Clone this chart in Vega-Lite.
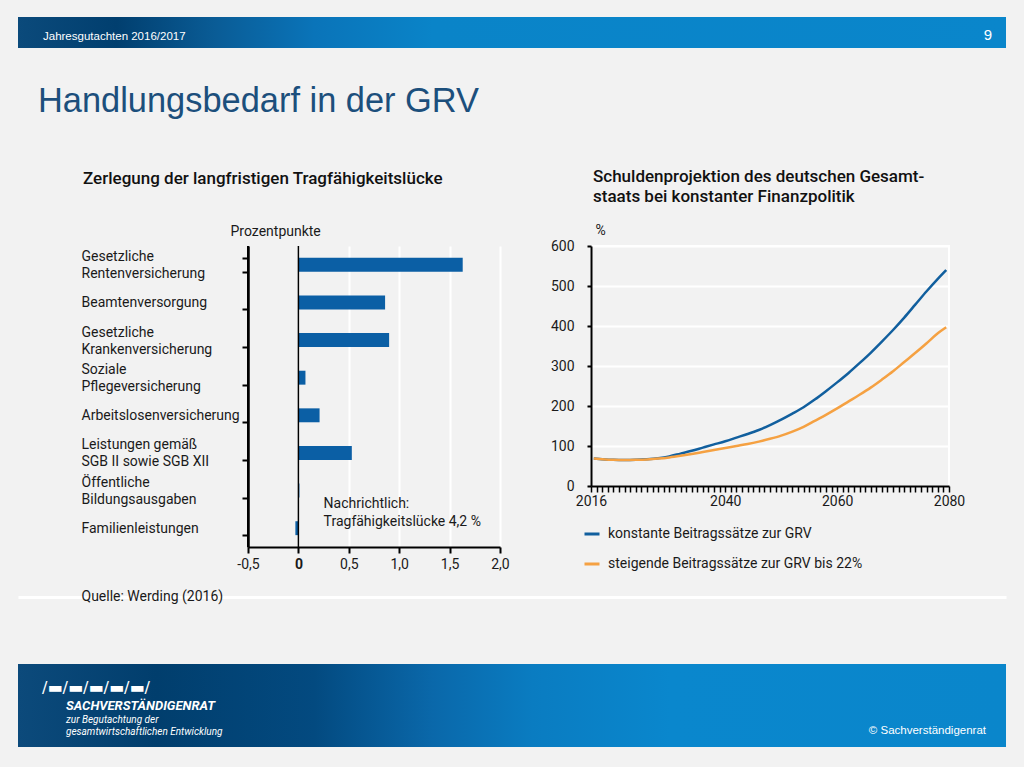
{
  "$schema": "https://vega.github.io/schema/vega-lite/v6.json",
  "padding": {"left": 18, "top": 17, "right": 18, "bottom": 20},
  "background": "#f2f2f2",
  "config": {
    "view": {"stroke": null},
    "font": "Roboto",
    "axis": {
      "labelFont": "Roboto", "labelFontSize": 14, "labelColor": "#1a1a1a",
      "titleFont": "Roboto", "titleFontSize": 14, "titleFontWeight": "normal", "titleColor": "#1a1a1a",
      "domainColor": "#000000", "domainWidth": 2, "tickColor": "#000000", "tickWidth": 2,
      "gridColor": "#ffffff", "gridWidth": 2, "gridOpacity": 1
    },
    "title": {"font": "Roboto"}
  },
  "datasets": {
    "kopf": [{"ausgabe": "Jahresgutachten  2016/2017", "seite": "9"}],
    "fuss": [{"logo": "/▬/▬/▬/▬/▬/", "name": "SACHVERSTÄNDIGENRAT", "zusatz": "zur Begutachtung der\ngesamtwirtschaftlichen Entwicklung", "copyright": "© Sachverständigenrat"}],
    "zerlegung": [
      {"bereich": "Gesetzliche\nRentenversicherung", "wert": 1.63},
      {"bereich": "Beamtenversorgung", "wert": 0.86},
      {"bereich": "Gesetzliche\nKrankenversicherung", "wert": 0.90},
      {"bereich": "Soziale\nPflegeversicherung", "wert": 0.07},
      {"bereich": "Arbeitslosenversicherung", "wert": 0.21},
      {"bereich": "Leistungen gemäß\nSGB II sowie SGB XII", "wert": 0.53},
      {"bereich": "Öffentliche\nBildungsausgaben", "wert": 0.01},
      {"bereich": "Familienleistungen", "wert": -0.03}
    ],
    "hinweis": [{"text": "Nachrichtlich:\nTragfähigkeitslücke 4,2 %"}],
    "schulden": [
      {"jahr": 2016.5, "wert": 68.5, "szenario": "konstante Beitragssätze zur GRV"},
      {"jahr": 2018, "wert": 67, "szenario": "konstante Beitragssätze zur GRV"},
      {"jahr": 2020, "wert": 65.5, "szenario": "konstante Beitragssätze zur GRV"},
      {"jahr": 2022, "wert": 65, "szenario": "konstante Beitragssätze zur GRV"},
      {"jahr": 2024, "wert": 65.5, "szenario": "konstante Beitragssätze zur GRV"},
      {"jahr": 2026, "wert": 67, "szenario": "konstante Beitragssätze zur GRV"},
      {"jahr": 2028, "wert": 69.5, "szenario": "konstante Beitragssätze zur GRV"},
      {"jahr": 2030, "wert": 74, "szenario": "konstante Beitragssätze zur GRV"},
      {"jahr": 2032, "wert": 81, "szenario": "konstante Beitragssätze zur GRV"},
      {"jahr": 2034, "wert": 88, "szenario": "konstante Beitragssätze zur GRV"},
      {"jahr": 2036, "wert": 96, "szenario": "konstante Beitragssätze zur GRV"},
      {"jahr": 2038, "wert": 104, "szenario": "konstante Beitragssätze zur GRV"},
      {"jahr": 2040, "wert": 112, "szenario": "konstante Beitragssätze zur GRV"},
      {"jahr": 2042, "wert": 121, "szenario": "konstante Beitragssätze zur GRV"},
      {"jahr": 2044, "wert": 130, "szenario": "konstante Beitragssätze zur GRV"},
      {"jahr": 2046, "wert": 140, "szenario": "konstante Beitragssätze zur GRV"},
      {"jahr": 2048, "wert": 152, "szenario": "konstante Beitragssätze zur GRV"},
      {"jahr": 2050, "wert": 166, "szenario": "konstante Beitragssätze zur GRV"},
      {"jahr": 2052, "wert": 181, "szenario": "konstante Beitragssätze zur GRV"},
      {"jahr": 2054, "wert": 197, "szenario": "konstante Beitragssätze zur GRV"},
      {"jahr": 2056, "wert": 216, "szenario": "konstante Beitragssätze zur GRV"},
      {"jahr": 2058, "wert": 237, "szenario": "konstante Beitragssätze zur GRV"},
      {"jahr": 2060, "wert": 259, "szenario": "konstante Beitragssätze zur GRV"},
      {"jahr": 2062, "wert": 282, "szenario": "konstante Beitragssätze zur GRV"},
      {"jahr": 2064, "wert": 307, "szenario": "konstante Beitragssätze zur GRV"},
      {"jahr": 2066, "wert": 333, "szenario": "konstante Beitragssätze zur GRV"},
      {"jahr": 2068, "wert": 361, "szenario": "konstante Beitragssätze zur GRV"},
      {"jahr": 2070, "wert": 390, "szenario": "konstante Beitragssätze zur GRV"},
      {"jahr": 2072, "wert": 421, "szenario": "konstante Beitragssätze zur GRV"},
      {"jahr": 2074, "wert": 454, "szenario": "konstante Beitragssätze zur GRV"},
      {"jahr": 2076, "wert": 487, "szenario": "konstante Beitragssätze zur GRV"},
      {"jahr": 2078, "wert": 518, "szenario": "konstante Beitragssätze zur GRV"},
      {"jahr": 2079.5, "wert": 540, "szenario": "konstante Beitragssätze zur GRV"},
      {"jahr": 2016.5, "wert": 68.5, "szenario": "steigende Beitragssätze zur GRV bis 22%"},
      {"jahr": 2018, "wert": 67, "szenario": "steigende Beitragssätze zur GRV bis 22%"},
      {"jahr": 2020, "wert": 65.5, "szenario": "steigende Beitragssätze zur GRV bis 22%"},
      {"jahr": 2022, "wert": 65, "szenario": "steigende Beitragssätze zur GRV bis 22%"},
      {"jahr": 2024, "wert": 65.5, "szenario": "steigende Beitragssätze zur GRV bis 22%"},
      {"jahr": 2026, "wert": 66.5, "szenario": "steigende Beitragssätze zur GRV bis 22%"},
      {"jahr": 2028, "wert": 68.5, "szenario": "steigende Beitragssätze zur GRV bis 22%"},
      {"jahr": 2030, "wert": 71.5, "szenario": "steigende Beitragssätze zur GRV bis 22%"},
      {"jahr": 2032, "wert": 75.5, "szenario": "steigende Beitragssätze zur GRV bis 22%"},
      {"jahr": 2034, "wert": 80, "szenario": "steigende Beitragssätze zur GRV bis 22%"},
      {"jahr": 2036, "wert": 85, "szenario": "steigende Beitragssätze zur GRV bis 22%"},
      {"jahr": 2038, "wert": 90, "szenario": "steigende Beitragssätze zur GRV bis 22%"},
      {"jahr": 2040, "wert": 95, "szenario": "steigende Beitragssätze zur GRV bis 22%"},
      {"jahr": 2042, "wert": 100, "szenario": "steigende Beitragssätze zur GRV bis 22%"},
      {"jahr": 2044, "wert": 105, "szenario": "steigende Beitragssätze zur GRV bis 22%"},
      {"jahr": 2046, "wert": 111, "szenario": "steigende Beitragssätze zur GRV bis 22%"},
      {"jahr": 2048, "wert": 118, "szenario": "steigende Beitragssätze zur GRV bis 22%"},
      {"jahr": 2050, "wert": 126, "szenario": "steigende Beitragssätze zur GRV bis 22%"},
      {"jahr": 2052, "wert": 136, "szenario": "steigende Beitragssätze zur GRV bis 22%"},
      {"jahr": 2054, "wert": 148, "szenario": "steigende Beitragssätze zur GRV bis 22%"},
      {"jahr": 2056, "wert": 163, "szenario": "steigende Beitragssätze zur GRV bis 22%"},
      {"jahr": 2058, "wert": 178, "szenario": "steigende Beitragssätze zur GRV bis 22%"},
      {"jahr": 2060, "wert": 194, "szenario": "steigende Beitragssätze zur GRV bis 22%"},
      {"jahr": 2062, "wert": 211, "szenario": "steigende Beitragssätze zur GRV bis 22%"},
      {"jahr": 2064, "wert": 228, "szenario": "steigende Beitragssätze zur GRV bis 22%"},
      {"jahr": 2066, "wert": 246, "szenario": "steigende Beitragssätze zur GRV bis 22%"},
      {"jahr": 2068, "wert": 266, "szenario": "steigende Beitragssätze zur GRV bis 22%"},
      {"jahr": 2070, "wert": 287, "szenario": "steigende Beitragssätze zur GRV bis 22%"},
      {"jahr": 2072, "wert": 310, "szenario": "steigende Beitragssätze zur GRV bis 22%"},
      {"jahr": 2074, "wert": 333, "szenario": "steigende Beitragssätze zur GRV bis 22%"},
      {"jahr": 2076, "wert": 357, "szenario": "steigende Beitragssätze zur GRV bis 22%"},
      {"jahr": 2078, "wert": 382, "szenario": "steigende Beitragssätze zur GRV bis 22%"},
      {"jahr": 2079.5, "wert": 397, "szenario": "steigende Beitragssätze zur GRV bis 22%"}
    ]
  },
  "spacing": 18,
  "vconcat": [
    {
      "spacing": 48,
      "vconcat": [
        {
          "width": 988,
          "height": 31,
          "data": {"name": "kopf"},
          "title": {"text": "Handlungsbedarf in der GRV", "orient": "bottom", "anchor": "start", "frame": "group", "dx": 20, "offset": 64, "baseline": "alphabetic", "font": "Liberation Sans", "fontSize": 34.4, "fontWeight": "normal", "color": "#1c4f7c"},
          "layer": [
            {
              "mark": {"type": "rect", "fill": {"gradient": "linear", "x1": 0, "y1": 0, "x2": 1, "y2": 0, "stops": [
                {"offset": 0, "color": "#0b4a7b"}, {"offset": 0.1, "color": "#013f6f"}, {"offset": 0.2, "color": "#0a5c96"},
                {"offset": 0.3, "color": "#0a74b9"}, {"offset": 0.42, "color": "#0a84c8"}, {"offset": 1, "color": "#0a86cb"}]}},
              "encoding": {
                "x": {"datum": 0, "type": "quantitative", "scale": {"domain": [0, 1], "nice": false}, "axis": null},
                "x2": {"datum": 1}
              }
            },
            {
              "mark": {"type": "text", "align": "left", "baseline": "alphabetic", "dx": 25, "dy": 7, "font": "Liberation Sans", "fontSize": 11.5, "color": "#ffffff"},
              "encoding": {"x": {"datum": 0, "type": "quantitative"}, "text": {"field": "ausgabe"}}
            },
            {
              "mark": {"type": "text", "align": "right", "baseline": "alphabetic", "dx": -14, "dy": 7, "font": "Liberation Sans", "fontSize": 15, "color": "#ffffff"},
              "encoding": {"x": {"datum": 1, "type": "quantitative"}, "text": {"field": "seite"}}
            }
          ]
        },
        {
          "spacing": 39,
          "hconcat": [
            {
              "width": 24,
              "height": 1,
              "data": {"values": []},
              "mark": "point",
              "encoding": {}
            },
            {
              "width": 252,
              "height": 301,
              "title": {"text": "Zerlegung der langfristigen Tragfähigkeitslücke", "anchor": "start", "frame": "bounds", "dx": 2, "offset": 36, "fontSize": 17, "fontWeight": 500, "color": "#111111"},
              "data": {"name": "zerlegung"},
              "layer": [
                {
                  "mark": {"type": "bar", "color": "#0b5fa5"},
                  "encoding": {
                    "y": {
                      "field": "bereich", "type": "nominal", "sort": null,
                      "scale": {"paddingInner": 0.63, "paddingOuter": 0.315},
                      "axis": {
                        "title": "Prozentpunkte", "titleAngle": 0, "titleAlign": "left", "titleBaseline": "alphabetic", "titleX": -18, "titleY": -11,
                        "domain": true, "tickBand": "extent", "tickSize": 6, "labelAlign": "left", "labelPadding": 161,
                        "labelBaseline": {"condition": {"test": "datum.value == 'Beamtenversorgung' || datum.value == 'Arbeitslosenversicherung' || datum.value == 'Familienleistungen'", "value": "middle"}, "value": "line-bottom"},
                        "labelExpr": "split(datum.label, '\\n')", "labelLineHeight": 17, "labelLimit": 220, "labelFontSize": 14
                      }
                    },
                    "x": {
                      "field": "wert", "type": "quantitative",
                      "scale": {"domain": [-0.5, 2.0], "nice": false, "zero": false},
                      "axis": {
                        "values": [-0.5, 0, 0.5, 1, 1.5, 2], "title": null, "grid": true, "tickSize": 6, "labelPadding": 4, "labelFlush": false,
                        "gridColor": {"condition": {"test": "datum.value == -0.5", "value": "#000000"}, "value": "#ffffff"},
                        "labelExpr": "datum.value == 0 ? '0' : replace(replace(format(datum.value, '.1f'), '.', ','), '\u2212', '-')",
                        "labelFontWeight": {"condition": {"test": "datum.value == 0", "value": "bold"}, "value": "normal"}
                      }
                    }
                  }
                },
                {
                  "data": {"name": "hinweis"},
                  "mark": {"type": "rule", "color": "#000000", "strokeWidth": 1.5},
                  "encoding": {"x": {"datum": 0, "type": "quantitative"}}
                },
                {
                  "data": {"name": "hinweis"},
                  "mark": {"type": "rule", "color": "#000000", "strokeWidth": 2},
                  "encoding": {"x": {"datum": -0.5, "type": "quantitative"}}
                },
                {
                  "data": {"name": "hinweis"},
                  "mark": {"type": "text", "align": "left", "baseline": "middle", "lineBreak": "\n", "lineHeight": 18, "dy": -24, "fontSize": 14, "color": "#1a1a1a"},
                  "encoding": {
                    "x": {"datum": 0.25, "type": "quantitative"},
                    "y": {"datum": "Familienleistungen", "type": "nominal"},
                    "text": {"field": "text"}
                  }
                }
              ]
            },
            {
              "width": 358,
              "height": 240,
              "view": {"stroke": "#ffffff", "strokeWidth": 2},
              "title": {"text": ["Schuldenprojektion des deutschen Gesamt-", "staats bei konstanter Finanzpolitik"], "anchor": "start", "frame": "group", "dx": 2, "offset": 17, "fontSize": 17, "fontWeight": 500, "lineHeight": 20, "color": "#111111"},
              "data": {"name": "schulden"},
              "mark": {"type": "line", "strokeWidth": 2.5, "interpolate": "monotone"},
              "encoding": {
                "x": {
                  "field": "jahr", "type": "quantitative",
                  "scale": {"domain": [2016, 2080], "nice": false, "zero": false},
                  "axis": {
                    "title": null, "grid": false, "tickCount": 64, "tickSize": 6, "tickWidth": 1.5, "labelPadding": 2, "labelFlush": false, "labelOverlap": false, "format": "d",
                    "labelFontWeight": "normal",
                    "labelExpr": "(datum.value == 2016 || datum.value == 2040 || datum.value == 2060 || datum.value == 2080) ? datum.label : ''"
                  }
                },
                "y": {
                  "field": "wert", "type": "quantitative",
                  "scale": {"domain": [0, 600], "nice": false},
                  "axis": {
                    "values": [0, 100, 200, 300, 400, 500, 600], "title": "%", "titleAngle": 0, "titleAlign": "left", "titleBaseline": "alphabetic", "titleX": 4, "titleY": -12,
                    "grid": true, "tickSize": 4, "labelPadding": 13
                  }
                },
                "color": {
                  "field": "szenario", "type": "nominal",
                  "scale": {"domain": ["konstante Beitragssätze zur GRV", "steigende Beitragssätze zur GRV bis 22%"], "range": ["#115f9e", "#f5a142"]},
                  "legend": {
                    "orient": "none", "legendX": 565, "legendY": 508, "title": null, "symbolType": "stroke", "symbolStrokeWidth": 3, "symbolSize": 225,
                    "labelFontSize": 14, "labelOffset": 7, "rowPadding": 14, "labelColor": "#1a1a1a", "labelFont": "Roboto", "labelLimit": 400
                  }
                }
              }
            }
          ]
        }
      ]
    },
    {
      "width": 988,
      "height": 83,
      "data": {"name": "fuss"},
      "layer": [
        {
          "mark": {"type": "rect", "fill": {"gradient": "linear", "x1": 0, "y1": 0, "x2": 1, "y2": 0, "stops": [
            {"offset": 0, "color": "#0c4a7b"}, {"offset": 0.14, "color": "#013e6d"}, {"offset": 0.3, "color": "#034a80"},
            {"offset": 0.42, "color": "#0a68aa"}, {"offset": 0.52, "color": "#0a7cc1"}, {"offset": 0.66, "color": "#0a87cd"}, {"offset": 1, "color": "#0a86cb"}]}},
          "encoding": {
            "x": {
              "datum": 0, "type": "quantitative", "scale": {"domain": [0, 1], "nice": false},
              "axis": {
                "orient": "top", "offset": 67, "domainColor": "#ffffff", "domainWidth": 3, "ticks": false, "labels": false, "grid": false,
                "title": "Quelle: Werding (2016)", "titleX": 63, "titleY": 3, "titleAlign": "left", "titleAnchor": "start", "titleBaseline": "alphabetic",
                "titleFontSize": 14, "titleColor": "#1a1a1a", "titleFontWeight": "normal"
              }
            },
            "x2": {"datum": 1}
          }
        },
        {
          "mark": {"type": "text", "align": "left", "baseline": "alphabetic", "dx": 24, "dy": -13, "font": "DejaVu Sans", "fontSize": 16, "color": "#ffffff"},
          "encoding": {"x": {"datum": 0, "type": "quantitative"}, "text": {"field": "logo"}}
        },
        {
          "mark": {"type": "text", "align": "left", "baseline": "alphabetic", "dx": 48, "dy": 4, "font": "Roboto", "fontSize": 13, "fontStyle": "italic", "fontWeight": "bold", "color": "#ffffff"},
          "encoding": {"x": {"datum": 0, "type": "quantitative"}, "text": {"field": "name"}}
        },
        {
          "mark": {"type": "text", "align": "left", "baseline": "alphabetic", "dx": 48, "dy": 17, "lineBreak": "\n", "lineHeight": 12, "font": "Roboto", "fontSize": 10, "fontStyle": "italic", "color": "#ffffff"},
          "encoding": {"x": {"datum": 0, "type": "quantitative"}, "text": {"field": "zusatz"}}
        },
        {
          "mark": {"type": "text", "align": "right", "baseline": "alphabetic", "dx": -20, "dy": 28, "font": "Liberation Sans", "fontSize": 11.5, "color": "#ffffff"},
          "encoding": {"x": {"datum": 1, "type": "quantitative"}, "text": {"field": "copyright"}}
        }
      ]
    }
  ]
}
